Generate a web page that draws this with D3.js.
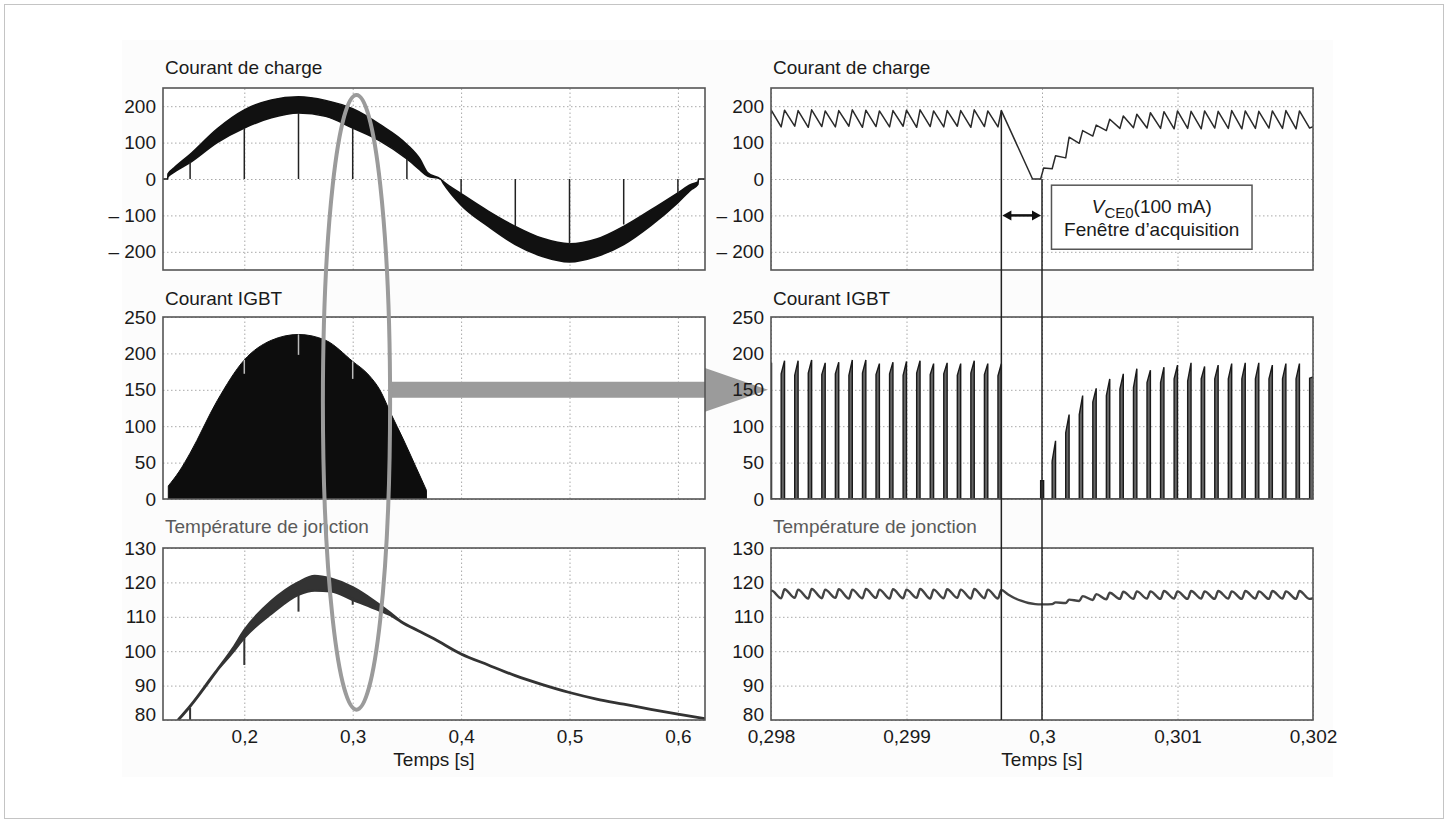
<!DOCTYPE html>
<html>
<head>
<meta charset="utf-8">
<script src="https://cdnjs.cloudflare.com/ajax/libs/d3/7.8.5/d3.min.js"></script>
<style>
  body { margin: 0; background: #fff; }
  svg { display: block; font-family: 'Liberation Sans', Arial, sans-serif; }
  .grid line { stroke: #a8a8a8; stroke-dasharray: 1.5 2.5; }
  .grid path { display: none; }
  .axis path, .axis line { display: none; }
  .axis text { font-size: 19px; fill: #1a1a1a; font-family: 'Liberation Sans', Arial, sans-serif; }
  .title { font-size: 19px; }
</style>
</head>
<body>
<svg id="canvas"></svg>
<script>
// Canvas size
var canvasWidth = 1448;
var canvasHeight = 823;

// Panel layout (pixels)
var leftX = [163, 705];
var rightX = [771, 1313];
var rowY = [[88, 270], [317, 499], [548, 720]];
var titleBaseline = [74, 305, 533];

// Axis ticks
var leftTimeTicks = [0.2, 0.3, 0.4, 0.5, 0.6];
var rightTimeTicks = [0.298, 0.299, 0.3, 0.301, 0.302];
var chargeTicks = [-200, -100, 0, 100, 200];
var igbtTicks = [0, 50, 100, 150, 200, 250];
var tempTicks = [80, 90, 100, 110, 120, 130];

// Panel titles
var titles = ['Courant de charge', 'Courant IGBT', 'Température de jonction'];

// Left: load current band (envelope)
var chargeEnvT  = [0.125, 0.1293, 0.1296, 0.135, 0.15, 0.175, 0.2, 0.225, 0.25, 0.275, 0.3, 0.325, 0.35, 0.362, 0.369,
                   0.381, 0.384, 0.4, 0.425, 0.45, 0.475, 0.5, 0.525, 0.55, 0.575, 0.6, 0.612, 0.6185, 0.619, 0.625];
var chargeEnvHi = [0, 0, 14, 30, 68, 138, 190, 217, 226, 216, 193, 150, 95, 55, 18,
                   0, -8, -40, -88, -130, -163, -178, -165, -130, -85, -38, -15, -8, 0, 0];
var chargeEnvLo = [0, 0, 6, 18, 45, 100, 140, 168, 181, 172, 140, 105, 55, 25, 8,
                   0, -14, -72, -130, -180, -213, -228, -213, -180, -128, -65, -30, -15, 0, 0];
var chargeSpikeT = [0.15, 0.2, 0.25, 0.3, 0.35, 0.4, 0.45, 0.5, 0.55, 0.6];
var chargeSpikeV = [48, 140, 182, 140, 55, -40, -130, -180, -125, -40];

// Left: IGBT current envelope (area closes down to 0 at both ends)
var igbtEnvT = [0.1299, 0.14, 0.15, 0.175, 0.2, 0.225, 0.25, 0.275, 0.3, 0.315, 0.325, 0.335, 0.347, 0.358, 0.365, 0.368];
var igbtEnvV = [18, 38, 63, 135, 191, 218, 226, 218, 189, 170, 150, 118, 81, 45, 22, 12];
var igbtNotchT = [0.2, 0.25, 0.3];
var igbtNotchHi = [191, 226, 189];
var igbtNotchLo = [172, 198, 165];

// Left: junction temperature band
var tempT  = [0.139, 0.15, 0.175, 0.19, 0.2, 0.225, 0.25, 0.265, 0.28, 0.3, 0.32, 0.335, 0.345, 0.36, 0.375,
              0.4, 0.425, 0.45, 0.475, 0.5, 0.525, 0.55, 0.575, 0.6, 0.625];
var tempHi = [80, 84, 94.5, 101, 106, 114.5, 120, 121.8, 121, 118.5, 114.5, 111, 108.5, 106, 103.6,
              99.2, 96, 92.9, 90.3, 88, 86.1, 84.6, 83.1, 81.7, 80.4];
var tempLo = [80, 84, 94.5, 100, 104, 111, 116.5, 117.7, 117.5, 115, 112.5, 110.5, 108.5, 106, 103.6,
              99.2, 96, 92.9, 90.3, 88, 86.1, 84.6, 83.1, 81.7, 80.4];
var tempSpikeT = [0.15, 0.2, 0.25, 0.3];
var tempSpikeHi = [83.5, 105, 117, 115.5];
var tempSpikeLo = [80, 96, 111.5, 113.5];

// Right: switching pulses (turn-on / turn-off times)
var pulseOn = [
  0.297975,
  0.298075, 0.298175, 0.298275, 0.298375, 0.298475, 0.298575, 0.298675, 0.298775, 0.298875,
  0.298975, 0.299075, 0.299175, 0.299275, 0.299375, 0.299475, 0.299575, 0.299675,
  0.29999,
  0.300075, 0.300175, 0.300275, 0.300375, 0.300475, 0.300575, 0.300675, 0.300775, 0.300875,
  0.300975, 0.301075, 0.301175, 0.301275, 0.301375, 0.301475, 0.301575, 0.301675, 0.301775, 0.301875,
  0.301975
];
var pulseOff = [
  0.298004,
  0.2981, 0.2982, 0.2983, 0.2984, 0.2985, 0.2986, 0.2987, 0.2988, 0.2989,
  0.299, 0.2991, 0.2992, 0.2993, 0.2994, 0.2995, 0.2996, 0.2997,
  0.300012,
  0.3001, 0.3002, 0.3003, 0.3004, 0.3005, 0.3006, 0.3007, 0.3008, 0.3009,
  0.301, 0.3011, 0.3012, 0.3013, 0.3014, 0.3015, 0.3016, 0.3017, 0.3018, 0.3019,
  0.302004
];

// Right: IGBT current at turn-on / turn-off
var igbtLow = [
  168,
  172, 170, 173, 171, 172, 170, 173, 171, 172,
  170, 173, 171, 172, 170, 173, 171, 169,
  25,
  52, 91, 116, 133, 142, 151, 153, 160, 160,
  165, 162, 165, 165, 165, 165, 165, 165, 165, 165,
  166
];
var igbtHigh = [
  187,
  190, 190, 191, 187, 188, 191, 191, 186, 188,
  189, 190, 186, 187, 186, 190, 186, 186,
  25,
  80, 116, 142, 152, 165, 172, 179, 177, 181,
  184, 187, 182, 184, 186, 187, 187, 184, 186, 186,
  168
];

// Right: load current at turn-on / turn-off
var loadTrough = [
  145,
  143, 145, 142, 144, 143, 145, 142, 144, 143,
  145, 142, 144, 143, 145, 142, 144, 143,
  0,
  28, 58, 98, 118, 133, 139, 141, 140, 139,
  138, 139, 138, 140, 139, 138, 139, 140, 139, 138,
  140
];
var loadPeak = [
  188,
  189, 188, 190, 187, 188, 190, 189, 187, 188,
  189, 190, 187, 188, 188, 190, 187, 188,
  30,
  64, 115, 133, 148, 164, 173, 178, 182, 185,
  187, 186, 187, 186, 188, 187, 186, 187, 188, 187,
  144
];
var loadExtraT = [0.29993];
var loadExtraV = [0];

// Right: junction temperature at turn-on / turn-off
var tempTrough = [
  115.6,
  115.4, 115.5, 115.3, 115.4, 115.5, 115.3, 115.4, 115.5, 115.3,
  115.4, 115.5, 115.3, 115.4, 115.5, 115.3, 115.4, 115.3,
  113.6,
  113.7, 114.0, 114.6, 114.9, 115.1, 115.2, 115.2, 115.3, 115.2,
  115.3, 115.2, 115.3, 115.2, 115.3, 115.2, 115.3, 115.2, 115.3, 115.2,
  115.2
];
var tempPeak = [
  117.6,
  118.0, 117.9, 118.1, 117.9, 118.0, 117.9, 118.1, 117.9, 118.0,
  117.9, 118.1, 117.9, 118.0, 117.9, 118.1, 117.9, 117.8,
  113.6,
  114.2, 115.0, 116.0, 116.6, 117.0, 117.3, 117.4, 117.4, 117.5,
  117.4, 117.5, 117.4, 117.5, 117.4, 117.5, 117.4, 117.5, 117.4, 117.5,
  115.4
];
var tempExtraT = [0.29975, 0.2998, 0.29985, 0.2999, 0.29995];
var tempExtraV = [116.5, 115.4, 114.6, 114.0, 113.7];

// Acquisition window
var windowStart = 0.2997;
var windowEnd = 0.3;
var windowStartCurrent = 188;

// French number formats
var frLocale = d3.formatLocale({
  decimal: ',',
  thousands: '\u00a0',
  grouping: [3],
  currency: ['', '\u00a0€'],
  minus: '\u2013 '
});
var fmtValue = frLocale.format('d');
var fmtLeftTime = frLocale.format('.1f');
var fmtRightTime = frLocale.format('.3~f');

var svg = d3.select('#canvas')
  .attr('width', canvasWidth)
  .attr('height', canvasHeight);

// Layers
var frameLayer = svg.append('g');
var panelLayer = svg.append('g');
var arrowLayer = svg.append('g');
var labelLayer = svg.append('g');
var noteLayer = svg.append('g');
var defs = svg.append('defs');
var clipCount = 0;

// Frame and scan background
frameLayer.append('rect')
  .attr('x', 4.5).attr('y', 4.5)
  .attr('width', canvasWidth - 9).attr('height', canvasHeight - 9)
  .attr('fill', '#fff')
  .attr('stroke', '#c4c4c4');

frameLayer.append('rect')
  .attr('x', 122).attr('y', 40)
  .attr('width', 1211).attr('height', 737)
  .attr('fill', '#fcfcfc');

/**
 * Builds one panel: background, grid, clip, border, tick labels and title.
 */
function makePanel(xRange, yRange, xDomain, yDomain, xTicks, yTicks, title, titleColor, titleY, xFormat) {
  var w = xRange[1] - xRange[0];
  var h = yRange[1] - yRange[0];

  var x = d3.scaleLinear().domain(xDomain).range(xRange);
  var y = d3.scaleLinear().domain(yDomain).range([yRange[1], yRange[0]]);

  var g = panelLayer.append('g');

  g.append('rect')
    .attr('x', xRange[0]).attr('y', yRange[0])
    .attr('width', w).attr('height', h)
    .attr('fill', '#fff');

  // Grid
  g.append('g')
    .attr('class', 'grid')
    .attr('transform', 'translate(0,' + yRange[1] + ')')
    .call(d3.axisBottom(x).tickValues(xTicks).tickSize(-h).tickFormat(''));

  g.append('g')
    .attr('class', 'grid')
    .attr('transform', 'translate(' + xRange[0] + ',0)')
    .call(d3.axisLeft(y).tickValues(yTicks).tickSize(-w).tickFormat(''));

  var id = 'clip' + (clipCount++);
  defs.append('clipPath')
    .attr('id', id)
    .append('rect')
    .attr('x', xRange[0]).attr('y', yRange[0] - 1)
    .attr('width', w).attr('height', h + 1);

  var plot = g.append('g').attr('clip-path', 'url(#' + id + ')');

  // Border
  labelLayer.append('rect')
    .attr('x', xRange[0]).attr('y', yRange[0])
    .attr('width', w).attr('height', h)
    .attr('fill', 'none')
    .attr('stroke', '#555')
    .attr('stroke-width', 1.6);

  // Tick labels
  var yAxis = labelLayer.append('g')
    .attr('class', 'axis')
    .attr('transform', 'translate(' + xRange[0] + ',0)')
    .call(d3.axisLeft(y).tickValues(yTicks).tickSize(0).tickPadding(7).tickFormat(fmtValue));

  if (xFormat) {
    // lowest value label sits slightly higher, clear of the time labels
    yAxis.selectAll('.tick text')
      .filter(function(d) { return d === yDomain[0]; })
      .attr('dy', '0.05em');

    labelLayer.append('g')
      .attr('class', 'axis')
      .attr('transform', 'translate(0,' + yRange[1] + ')')
      .call(d3.axisBottom(x).tickValues(xTicks).tickSize(0).tickPadding(10).tickFormat(xFormat));

    labelLayer.append('text')
      .attr('class', 'title')
      .attr('x', (xRange[0] + xRange[1]) / 2)
      .attr('y', 766)
      .attr('text-anchor', 'middle')
      .attr('fill', '#1a1a1a')
      .text('Temps [s]');
  }

  labelLayer.append('text')
    .attr('class', 'title')
    .attr('x', xRange[0] + 2)
    .attr('y', titleY)
    .attr('fill', titleColor)
    .text(title);

  return { x: x, y: y, plot: plot };
}

var leftDomain = [0.125, 0.625];
var rightDomain = [0.298, 0.302];

// Left panels
var lCharge = makePanel(leftX, rowY[0], leftDomain, [-250, 250], leftTimeTicks, chargeTicks, titles[0], '#1a1a1a', titleBaseline[0], null);
var lIgbt = makePanel(leftX, rowY[1], leftDomain, [0, 250], leftTimeTicks, igbtTicks, titles[1], '#1a1a1a', titleBaseline[1], null);
var lTemp = makePanel(leftX, rowY[2], leftDomain, [80, 130], leftTimeTicks, tempTicks, titles[2], '#5a5a5a', titleBaseline[2], fmtLeftTime);

// Right panels
var rCharge = makePanel(rightX, rowY[0], rightDomain, [-250, 250], rightTimeTicks, chargeTicks, titles[0], '#1a1a1a', titleBaseline[0], null);
var rIgbt = makePanel(rightX, rowY[1], rightDomain, [0, 250], rightTimeTicks, igbtTicks, titles[1], '#1a1a1a', titleBaseline[1], null);
var rTemp = makePanel(rightX, rowY[2], rightDomain, [80, 130], rightTimeTicks, tempTicks, titles[2], '#5a5a5a', titleBaseline[2], fmtRightTime);

// Left load current band
var chargeBand = chargeEnvT.map(function(t, i) {
  return { t: t, hi: chargeEnvHi[i], lo: chargeEnvLo[i] };
});

lCharge.plot.append('path')
  .datum(chargeBand)
  .attr('d', d3.area()
    .curve(d3.curveMonotoneX)
    .x(function(d) { return lCharge.x(d.t); })
    .y0(function(d) { return lCharge.y(d.lo); })
    .y1(function(d) { return lCharge.y(d.hi); }))
  .attr('fill', '#111')
  .attr('stroke', '#111')
  .attr('stroke-width', 1.5);

lCharge.plot.selectAll('.spike')
  .data(chargeSpikeT)
  .enter()
  .append('line')
  .attr('x1', function(d) { return lCharge.x(d); })
  .attr('x2', function(d) { return lCharge.x(d); })
  .attr('y1', lCharge.y(0))
  .attr('y2', function(d, i) { return lCharge.y(chargeSpikeV[i]); })
  .attr('stroke', '#222')
  .attr('stroke-width', 1.5);

// Left IGBT current
var igbtEnv = igbtEnvT.map(function(t, i) {
  return { t: t, v: igbtEnvV[i] };
});

lIgbt.plot.append('path')
  .datum(igbtEnv)
  .attr('d', d3.area()
    .curve(d3.curveMonotoneX)
    .x(function(d) { return lIgbt.x(d.t); })
    .y0(lIgbt.y(0))
    .y1(function(d) { return lIgbt.y(d.v); }))
  .attr('fill', '#0d0d0d')
  .attr('stroke', '#0d0d0d')
  .attr('stroke-width', 1);

lIgbt.plot.selectAll('.notch')
  .data(igbtNotchT)
  .enter()
  .append('line')
  .attr('x1', function(d) { return lIgbt.x(d); })
  .attr('x2', function(d) { return lIgbt.x(d); })
  .attr('y1', function(d, i) { return lIgbt.y(igbtNotchHi[i]); })
  .attr('y2', function(d, i) { return lIgbt.y(igbtNotchLo[i]); })
  .attr('stroke', '#bbb')
  .attr('stroke-width', 1.5);

// Left junction temperature
var tempBand = tempT.map(function(t, i) {
  return { t: t, hi: tempHi[i], lo: tempLo[i] };
});

lTemp.plot.append('path')
  .datum(tempBand)
  .attr('d', d3.area()
    .curve(d3.curveMonotoneX)
    .x(function(d) { return lTemp.x(d.t); })
    .y0(function(d) { return lTemp.y(d.lo); })
    .y1(function(d) { return lTemp.y(d.hi); }))
  .attr('fill', '#333')
  .attr('stroke', '#333')
  .attr('stroke-width', 2.8)
  .attr('stroke-linejoin', 'round');

lTemp.plot.selectAll('.spike')
  .data(tempSpikeT)
  .enter()
  .append('line')
  .attr('x1', function(d) { return lTemp.x(d); })
  .attr('x2', function(d) { return lTemp.x(d); })
  .attr('y1', function(d, i) { return lTemp.y(tempSpikeHi[i]); })
  .attr('y2', function(d, i) { return lTemp.y(tempSpikeLo[i]); })
  .attr('stroke', '#333')
  .attr('stroke-width', 2);

/**
 * Merges turn-on / turn-off values and extra points into one time-sorted list.
 */
function mergeVertices(onV, offV, extraT, extraV) {
  var pts = [];
  pulseOn.forEach(function(t, i) {
    pts.push({ t: t, v: onV[i] });
    pts.push({ t: pulseOff[i], v: offV[i] });
  });
  extraT.forEach(function(t, i) {
    pts.push({ t: t, v: extraV[i] });
  });
  pts.sort(function(a, b) { return a.t - b.t; });
  return pts;
}

// Right load current
var loadPts = mergeVertices(loadTrough, loadPeak, loadExtraT, loadExtraV);

rCharge.plot.append('path')
  .datum(loadPts)
  .attr('d', d3.line()
    .x(function(d) { return rCharge.x(d.t); })
    .y(function(d) { return rCharge.y(d.v); }))
  .attr('fill', 'none')
  .attr('stroke', '#2a2a2a')
  .attr('stroke-width', 1.5)
  .attr('stroke-linejoin', 'round');

// Right IGBT pulses
var pulseLine = d3.line()
  .x(function(d) { return rIgbt.x(d.t); })
  .y(function(d) { return rIgbt.y(d.v); });

rIgbt.plot.append('path')
  .datum([{ t: rightDomain[0], v: 0 }, { t: rightDomain[1], v: 0 }])
  .attr('d', pulseLine)
  .attr('stroke', '#222')
  .attr('stroke-width', 1.5);

rIgbt.plot.selectAll('.pulse')
  .data(pulseOn)
  .enter()
  .append('path')
  .attr('class', 'pulse')
  .attr('d', function(d, i) {
    return pulseLine([
      { t: d, v: 0 },
      { t: d, v: igbtLow[i] },
      { t: pulseOff[i], v: igbtHigh[i] },
      { t: pulseOff[i], v: 0 }
    ]);
  })
  .attr('fill', '#666')
  .attr('stroke', '#1a1a1a')
  .attr('stroke-width', 1.4);

// Right junction temperature
var tempPts = mergeVertices(tempTrough, tempPeak, tempExtraT, tempExtraV);

rTemp.plot.append('path')
  .datum(tempPts)
  .attr('d', d3.line()
    .curve(d3.curveMonotoneX)
    .x(function(d) { return rTemp.x(d.t); })
    .y(function(d) { return rTemp.y(d.v); }))
  .attr('fill', 'none')
  .attr('stroke', '#444')
  .attr('stroke-width', 2.4)
  .attr('stroke-linejoin', 'round');

// Zoom arrow (from the ellipse to the right panels)
var ellipseT = 0.3035;
var ellipseHalfT = 0.031;
var ellipseTopValue = 231;
var ellipseBottomValue = 83;
var arrowLevel = 150;
var arrowShaftHalf = 11;
var arrowHeadHalf = 30;

var arrowStart = lIgbt.x(ellipseT + ellipseHalfT);
var arrowNeck = lIgbt.x(leftDomain[1]);
var arrowTip = rightX[0] - 3;

arrowLayer.append('path')
  .attr('d', d3.line()([
    [arrowStart, lIgbt.y(arrowLevel + arrowShaftHalf)],
    [arrowNeck, lIgbt.y(arrowLevel + arrowShaftHalf)],
    [arrowNeck, lIgbt.y(arrowLevel + arrowHeadHalf)],
    [arrowTip, lIgbt.y(arrowLevel)],
    [arrowNeck, lIgbt.y(arrowLevel - arrowHeadHalf)],
    [arrowNeck, lIgbt.y(arrowLevel - arrowShaftHalf)],
    [arrowStart, lIgbt.y(arrowLevel - arrowShaftHalf)]
  ]) + 'Z')
  .attr('fill', '#9b9b9b');

// Ellipse around t = 0,3 s
var ellTop = lCharge.y(ellipseTopValue);
var ellBottom = lTemp.y(ellipseBottomValue);

noteLayer.append('ellipse')
  .attr('cx', lCharge.x(ellipseT))
  .attr('cy', (ellTop + ellBottom) / 2)
  .attr('rx', lCharge.x(ellipseT + ellipseHalfT) - lCharge.x(ellipseT))
  .attr('ry', (ellBottom - ellTop) / 2)
  .attr('fill', 'none')
  .attr('stroke', '#9b9b9b')
  .attr('stroke-width', 4);

// Acquisition window lines
var tempBottom = rTemp.y(tempTicks[0]);

noteLayer.append('line')
  .attr('x1', rCharge.x(windowStart)).attr('x2', rCharge.x(windowStart))
  .attr('y1', rCharge.y(windowStartCurrent)).attr('y2', tempBottom)
  .attr('stroke', '#222').attr('stroke-width', 1.5);

noteLayer.append('line')
  .attr('x1', rCharge.x(windowEnd)).attr('x2', rCharge.x(windowEnd))
  .attr('y1', rCharge.y(0)).attr('y2', tempBottom)
  .attr('stroke', '#222').attr('stroke-width', 1.5);

// Double arrow
var dblY = rCharge.y(-100);
var xa = rCharge.x(windowStart) + 1;
var xb = rCharge.x(windowEnd) - 1;

noteLayer.append('line')
  .attr('x1', xa + 6).attr('x2', xb - 6)
  .attr('y1', dblY).attr('y2', dblY)
  .attr('stroke', '#111').attr('stroke-width', 2.5);

noteLayer.append('path')
  .attr('d', d3.line()([[xa, dblY], [xa + 9, dblY - 5], [xa + 9, dblY + 5]]) + 'Z')
  .attr('fill', '#111');

noteLayer.append('path')
  .attr('d', d3.line()([[xb, dblY], [xb - 9, dblY - 5], [xb - 9, dblY + 5]]) + 'Z')
  .attr('fill', '#111');

// Annotation box
var boxT = [0.30007, 0.30155];
var boxV = [-17, -193];
var bx0 = rCharge.x(boxT[0]);
var bx1 = rCharge.x(boxT[1]);
var by0 = rCharge.y(boxV[0]);
var by1 = rCharge.y(boxV[1]);

noteLayer.append('rect')
  .attr('x', bx0).attr('y', by0)
  .attr('width', bx1 - bx0).attr('height', by1 - by0)
  .attr('fill', '#fff')
  .attr('stroke', '#555')
  .attr('stroke-width', 1.5);

var line1 = noteLayer.append('text')
  .attr('class', 'title')
  .attr('x', (bx0 + bx1) / 2)
  .attr('y', by0 + 28)
  .attr('text-anchor', 'middle')
  .attr('fill', '#1a1a1a');

line1.append('tspan').attr('font-style', 'italic').text('V');
line1.append('tspan').attr('dy', 5).attr('font-size', 15).text('CE0');
line1.append('tspan').attr('dy', -5).text('(100 mA)');

noteLayer.append('text')
  .attr('class', 'title')
  .attr('x', (bx0 + bx1) / 2)
  .attr('y', by0 + 51)
  .attr('text-anchor', 'middle')
  .attr('fill', '#1a1a1a')
  .text('Fenêtre d\u2019acquisition');
</script>
</body>
</html>
